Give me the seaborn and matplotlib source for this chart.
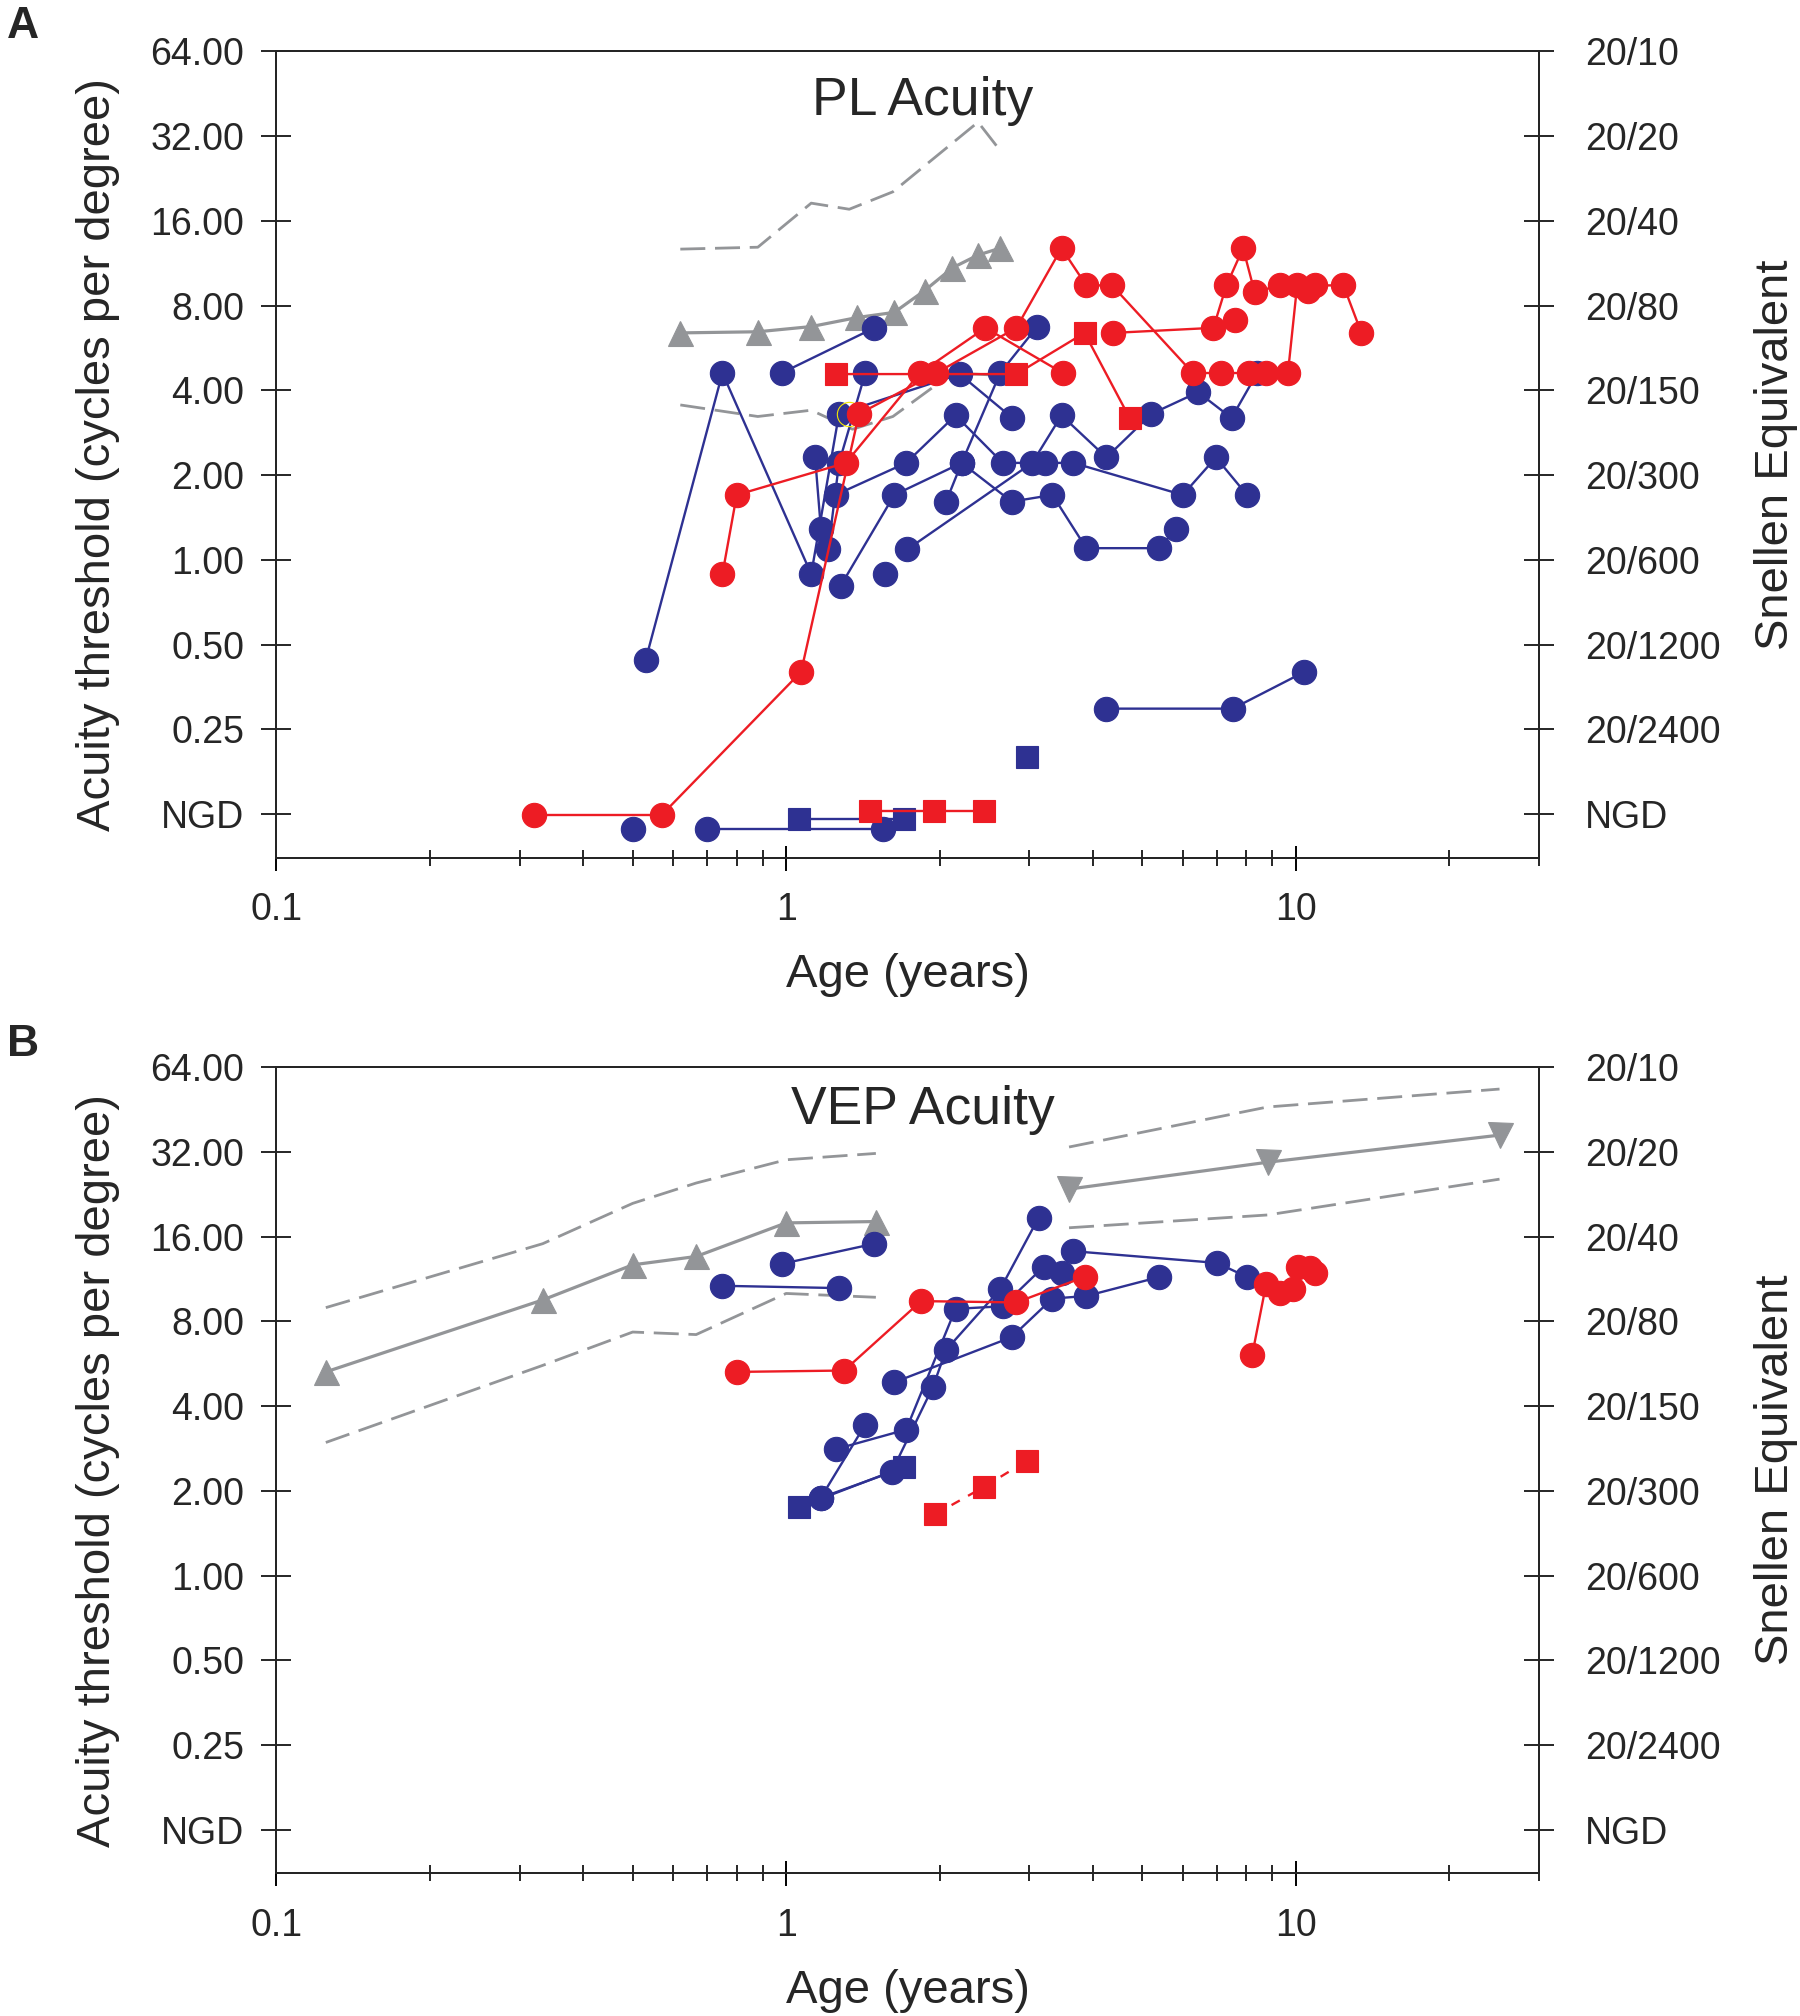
import numpy as np
import matplotlib
matplotlib.use('Agg')
import matplotlib.pyplot as plt
import seaborn as sns
from matplotlib.ticker import LogLocator, NullFormatter, NullLocator

sns.set_style('ticks')
plt.rcParams['font.family'] = ['Liberation Sans', 'DejaVu Sans']

BLUE = '#2E3192'
RED = '#ED1C24'
GRAY = '#939598'

# ---- axis tick labels ----
cpd_ticks = [0.125, 0.25, 0.5, 1, 2, 4, 8, 16, 32, 64]
cpd_labels = ['NGD', '0.25', '0.50', '1.00', '2.00', '4.00', '8.00', '16.00', '32.00', '64.00']
snellen_labels = ['NGD', '20/2400', '20/1200', '20/600', '20/300', '20/150', '20/80', '20/40', '20/20', '20/10']

# ---- A: PL acuity ----
pl_norm_age = [0.62, 0.88, 1.12, 1.38, 1.63, 1.87, 2.12, 2.38, 2.63]
pl_norm_mean = [6.40, 6.46, 6.74, 7.26, 7.57, 9.05, 10.9, 12.1, 12.8]
pl_upper_age = [0.62, 0.88, 1.12, 1.33, 1.62, 2.38, 2.64]
pl_upper = [12.7, 12.9, 18.5, 17.6, 20.3, 35.9, 28.2]
pl_lower_age = [0.62, 0.88, 1.12, 1.35, 1.62, 2.12, 2.64]
pl_lower = [3.55, 3.23, 3.40, 2.91, 3.23, 4.61, 4.52]

pl_blue = [
    ([0.50], [0.111]),
    ([0.70, 1.55], [0.111, 0.111]),
    ([0.53, 0.75, 1.12, 1.27, 2.19, 2.78], [0.44, 4.61, 0.89, 3.30, 4.57, 3.19]),
    ([0.98, 1.49], [4.61, 6.67]),
    ([1.21, 1.27, 1.43], [1.09, 2.21, 4.61]),
    ([1.14, 1.17], [2.31, 1.29]),
    ([1.25, 1.72, 2.15, 2.66, 3.22, 3.66, 6.00, 6.97, 8.02], [1.70, 2.21, 3.26, 2.21, 2.21, 2.21, 1.70, 2.31, 1.70]),
    ([1.28, 1.63, 2.21, 2.63, 3.11], [0.81, 1.70, 2.21, 4.61, 6.74]),
    ([2.06, 2.21, 2.77, 3.33, 3.88, 5.40, 5.82], [1.61, 2.21, 1.61, 1.70, 1.10, 1.10, 1.29]),
    ([1.73, 3.04, 3.47, 4.25, 5.21, 6.43, 7.48, 8.40], [1.09, 2.21, 3.26, 2.31, 3.30, 3.94, 3.19, 4.61]),
    ([1.56], [0.89]),
    ([4.25, 7.52, 10.4], [0.296, 0.296, 0.40]),
]
pl_blue_sq = [
    ([1.06, 1.70], [0.120, 0.120]),
    ([2.97], [0.20]),
]
pl_red = [
    ([0.75, 0.80, 1.31, 1.83, 2.46, 3.49], [0.89, 1.70, 2.21, 4.61, 6.67, 4.61]),
    ([0.32, 0.57, 1.07, 1.39, 1.97, 2.83, 3.47, 3.88, 4.36, 6.28, 7.14, 8.11, 8.75, 9.65, 10.06, 10.56, 10.91, 12.40, 13.45],
     [0.124, 0.124, 0.40, 3.30, 4.61, 6.67, 12.8, 9.44, 9.44, 4.61, 4.61, 4.61, 4.61, 4.61, 9.44, 9.05, 9.44, 9.44, 6.40]),
    ([4.38, 6.89, 7.31, 7.88, 8.30, 9.33], [6.40, 6.67, 9.44, 12.8, 8.95, 9.44]),
    ([7.61], [7.11]),
]
pl_red_sq = [
    ([1.25, 2.83, 3.85, 4.72], [4.57, 4.57, 6.40, 3.19]),
    ([1.46, 1.95, 2.45], [0.128, 0.128, 0.128]),
]
pl_ring_age = [1.33]
pl_ring = [3.30]

# ---- B: VEP acuity ----
vep_norm_age = [0.125, 0.333, 0.50, 0.666, 1.0, 1.50]
vep_norm_mean = [5.29, 9.53, 12.7, 13.6, 17.9, 18.1]
vep_upper = [8.95, 15.1, 21.0, 24.8, 30.0, 31.6]
vep_lower = [2.97, 5.58, 7.33, 7.18, 10.05, 9.74]
vep_older_age = [3.59, 8.80, 25.1]
vep_older_mean = [23.6, 29.4, 36.7]
vep_older_upper = [33.3, 46.2, 53.5]
vep_older_lower = [17.2, 19.1, 25.6]

vep_blue = [
    ([0.75, 1.27], [10.7, 10.5]),
    ([0.98, 1.49], [12.8, 15.1]),
    ([1.17, 1.61, 1.94, 2.06, 2.63, 3.13], [1.89, 2.33, 4.67, 6.33, 10.4, 18.7]),
    ([1.17, 1.43], [1.89, 3.44]),
    ([1.25, 1.72, 2.15, 2.66, 3.20, 3.47, 3.66, 7.01, 8.02], [2.81, 3.30, 8.86, 9.05, 12.5, 11.9, 14.2, 12.9, 11.5]),
    ([1.63, 2.77, 3.33, 3.88, 5.40], [4.86, 7.03, 9.64, 9.84, 11.5]),
]
vep_blue_sq = [([1.06, 1.70], [1.75, 2.43])]
vep_red = [
    ([0.80, 1.30, 1.84, 2.83, 3.85], [5.29, 5.35, 9.44, 9.34, 11.5]),
    ([8.21, 8.75, 9.33, 9.88, 10.12, 10.66, 10.91], [6.07, 10.9, 10.05, 10.4, 12.5, 12.4, 11.9]),
]
vep_red_sq = [([1.96, 2.45, 2.97], [1.65, 2.07, 2.56])]

DASH = (0, (9, 3.5))


def draw(ax, x, y, color, marker=None, ls='-', lw=1.7, ms=17.5, mfc=None, zorder=3):
    sns.lineplot(x=x, y=y, ax=ax, color=color, marker=marker, linestyle=ls, linewidth=lw,
                 markersize=ms, markeredgecolor=color, markeredgewidth=0.8,
                 markerfacecolor=mfc if mfc else color,
                 estimator=None, sort=False, legend=False, zorder=zorder)


def setup(ax, title, title_y):
    ax.set_xscale('log')
    ax.set_yscale('log', base=2)
    ax.set_xlim(0.1, 30)
    ax.set_ylim(2 ** -3.514, 64)
    ax.set_xticks([0.1, 1, 10])
    ax.set_xticklabels(['0.1', '1', '10'])
    ax.xaxis.set_minor_locator(LogLocator(base=10, subs=np.arange(2, 10)))
    ax.xaxis.set_minor_formatter(NullFormatter())
    ax.set_yticks(cpd_ticks)
    ax.set_yticklabels(cpd_labels)
    ax.yaxis.set_minor_locator(NullLocator())
    ax.tick_params(axis='x', which='major', direction='inout', length=18, width=1.4,
                   labelsize=27, pad=16, top=False, color='black')
    ax.tick_params(axis='x', which='minor', direction='inout', length=11, width=1.4, top=False)
    ax.tick_params(axis='y', direction='inout', length=22, width=1.4, labelsize=27, pad=12, right=False)
    for s in ax.spines.values():
        s.set_visible(True)
        s.set_linewidth(1.4)
        s.set_color('black')
    ax.set_xlabel('Age (years)', fontsize=34, labelpad=18)
    ax.set_ylabel('Acuity threshold (cycles per degree)', fontsize=34, labelpad=22)
    ax.text(0.512, title_y, title, transform=ax.transAxes, fontsize=38.5, ha='center', va='center')

    ax2 = ax.twinx()
    ax2.set_yscale('log', base=2)
    ax2.set_ylim(2 ** -3.514, 64)
    ax2.set_yticks(cpd_ticks)
    ax2.set_yticklabels(snellen_labels)
    ax2.yaxis.set_minor_locator(NullLocator())
    ax2.tick_params(axis='y', direction='inout', length=22, width=1.4, labelsize=27, pad=22)
    for s in ax2.spines.values():
        s.set_linewidth(1.4)
    ax2.set_ylabel('Snellen Equivalent', fontsize=34, labelpad=24)


fig = plt.figure(figsize=(18, 20.16), dpi=100)
axA = fig.add_axes([0.15357, 0.57462, 0.70143, 0.39987])
axB = fig.add_axes([0.15357, 0.07079, 0.70143, 0.39987])

# panel A
draw(axA, pl_upper_age, pl_upper, GRAY, ls=DASH, lw=2.0, zorder=2)
draw(axA, pl_lower_age, pl_lower, GRAY, ls=DASH, lw=2.0, zorder=2)
draw(axA, pl_norm_age, pl_norm_mean, GRAY, marker='^', lw=2.3, ms=18, zorder=2)
for x, y in pl_blue:
    draw(axA, x, y, BLUE, marker='o')
for x, y in pl_blue_sq:
    draw(axA, x, y, BLUE, marker='s', ms=16)
draw(axA, pl_ring_age, pl_ring, '#F2E600', marker='o', mfc='none', lw=0, zorder=4)
for x, y in pl_red:
    draw(axA, x, y, RED, marker='o', zorder=4)
for x, y in pl_red_sq:
    draw(axA, x, y, RED, marker='s', ms=16, zorder=4)
setup(axA, 'PL Acuity', 0.938)

# panel B
draw(axB, vep_norm_age, vep_upper, GRAY, ls=DASH, lw=2.0, zorder=2)
draw(axB, vep_norm_age, vep_lower, GRAY, ls=DASH, lw=2.0, zorder=2)
draw(axB, vep_norm_age, vep_norm_mean, GRAY, marker='^', lw=2.3, ms=18, zorder=2)
draw(axB, vep_older_age, vep_older_upper, GRAY, ls=DASH, lw=2.0, zorder=2)
draw(axB, vep_older_age, vep_older_lower, GRAY, ls=DASH, lw=2.0, zorder=2)
draw(axB, vep_older_age, vep_older_mean, GRAY, marker='v', lw=2.3, ms=18, zorder=2)
for x, y in vep_blue:
    draw(axB, x, y, BLUE, marker='o')
for x, y in vep_blue_sq:
    draw(axB, x, y, BLUE, marker='s', ms=16)
for x, y in vep_red:
    draw(axB, x, y, RED, marker='o', zorder=4)
for x, y in vep_red_sq:
    draw(axB, x, y, RED, marker='s', ms=16, ls=(0, (4, 4)), zorder=4)
setup(axB, 'VEP Acuity', 0.947)

fig.text(0.004, 0.997, 'A', fontsize=32, fontweight='bold', va='top', ha='left')
fig.text(0.004, 0.492, 'B', fontsize=32, fontweight='bold', va='top', ha='left')

plt.savefig('out.png', dpi=100)
